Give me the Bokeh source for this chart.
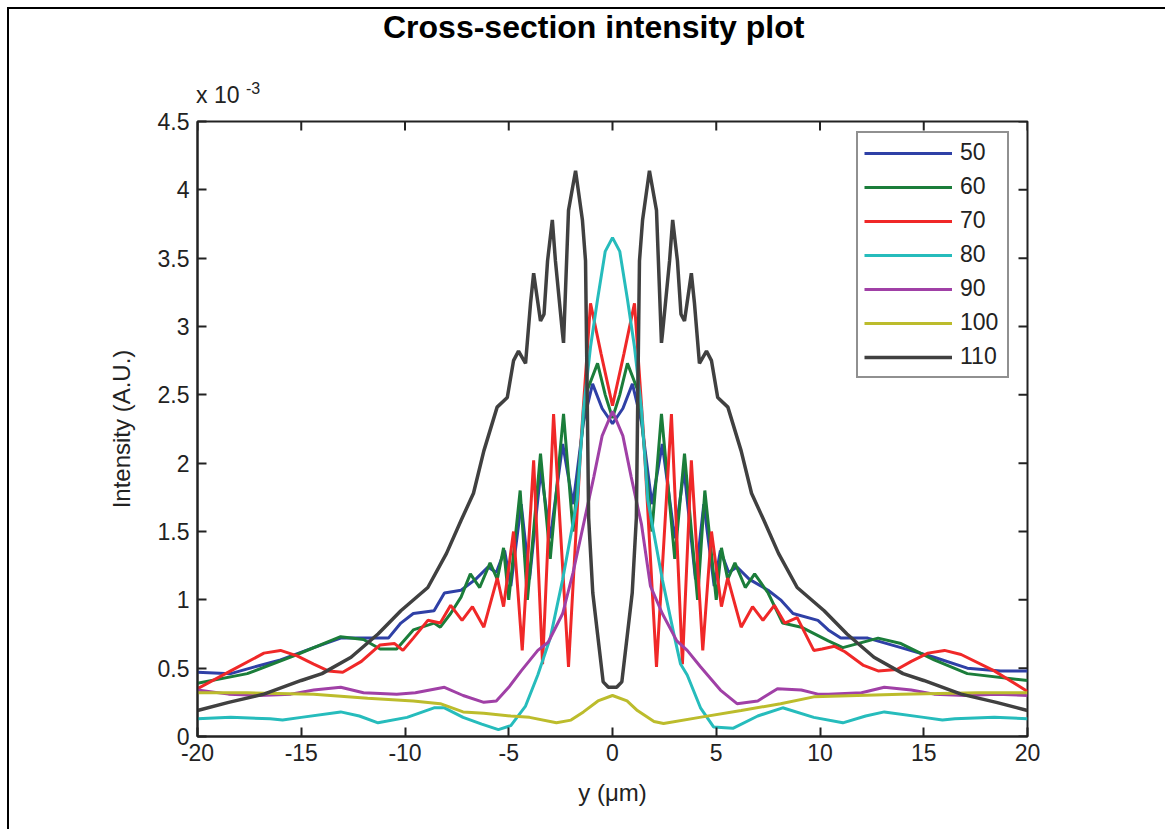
from bokeh.plotting import figure
from bokeh.models import Range1d, FixedTicker, Legend, LegendItem, Div
from bokeh.layouts import column
from bokeh.embed import file_html
from bokeh.resources import INLINE

# ---------------- data (intensity in units of 1e-3) ----------------
x_50 = [-20, -18.4, -17, -16, -14.4, -13.1, -11.8, -10.8, -10.2, -9.6, -8.6, -8.1, -7.3, -6.6, -6.0, -5.6, -5.2, -4.9, -4.4, -4.0, -3.45, -3.0, -2.4, -1.9, -1.4, -0.96, -0.5, 0,
        0.5, 0.96, 1.4, 1.9, 2.4, 3.0, 3.45, 4.0, 4.4, 4.9, 5.2, 5.6, 6.0, 6.6, 7.5, 8.1, 8.7, 9.9, 10.4, 11.0, 12.3, 13.9, 15.5, 17.1, 18.7, 20]
y_50 = [0.47, 0.46, 0.52, 0.56, 0.65, 0.72, 0.72, 0.72, 0.83, 0.9, 0.92, 1.05, 1.07, 1.15, 1.24, 1.2, 1.36, 1.1, 1.7, 1.15, 1.95, 1.45, 2.14, 1.7, 2.3, 2.58, 2.4, 2.29,
        2.4, 2.58, 2.3, 1.7, 2.14, 1.45, 1.95, 1.15, 1.7, 1.1, 1.36, 1.2, 1.24, 1.15, 1.07, 1.0, 0.9, 0.85, 0.78, 0.72, 0.72, 0.65, 0.58, 0.5, 0.48, 0.48]

x_60 = [-20, -17.6, -15.2, -13.1, -12, -11.2, -10.4, -9.6, -8.6, -8.3, -7.8, -7.3, -6.85, -6.4, -5.9, -5.55, -5.25, -5.0, -4.45, -4.1, -3.47, -3.0, -2.36, -1.9, -1.3, -0.72, -0.35, 0,
        0.35, 0.72, 1.3, 1.9, 2.36, 3.0, 3.47, 4.1, 4.45, 5.0, 5.25, 5.55, 5.9, 6.4, 6.85, 7.5, 8.2, 9.1, 10.4, 11.1, 12.8, 13.9, 15.5, 17.1, 20]
y_60 = [0.39, 0.46, 0.6, 0.73, 0.71, 0.64, 0.64, 0.78, 0.83, 0.8, 0.9, 1.02, 1.19, 1.09, 1.27, 1.15, 1.38, 1.0, 1.8, 1.0, 2.07, 1.3, 2.36, 1.5, 2.5, 2.73, 2.5, 2.33,
        2.5, 2.73, 2.5, 1.5, 2.36, 1.3, 2.07, 1.0, 1.8, 1.0, 1.38, 1.15, 1.27, 1.09, 1.19, 1.05, 0.83, 0.8, 0.7, 0.65, 0.72, 0.68, 0.56, 0.46, 0.41]

x_70 = [-20, -18.4, -16.8, -16, -15.2, -14.4, -13.7, -13, -12.1, -11.2, -10.5, -10.1, -9.6, -8.9, -8.3, -7.8, -7.25, -6.75, -6.2, -5.55, -5.25, -4.77, -4.35, -3.8, -3.37, -2.84, -2.12, -1.5, -1.06, -0.55, 0,
        0.55, 1.06, 1.5, 2.12, 2.84, 3.37, 3.8, 4.35, 4.77, 5.25, 5.55, 6.2, 6.75, 7.25, 7.8, 8.3, 8.9, 9.7, 10.1, 10.7, 11.2, 12.1, 12.8, 13.7, 14.4, 15.2, 16.0, 16.8, 18.4, 20]
y_70 = [0.35, 0.48, 0.61, 0.63, 0.59, 0.53, 0.48, 0.47, 0.55, 0.67, 0.68, 0.63, 0.72, 0.85, 0.83, 0.96, 0.85, 0.95, 0.8, 1.16, 0.95, 1.5, 0.63, 2.02, 0.53, 2.36, 0.51, 2.2, 3.17, 2.8, 2.42,
        2.8, 3.17, 2.2, 0.51, 2.36, 0.53, 2.02, 0.63, 1.5, 0.95, 1.16, 0.8, 0.95, 0.85, 0.96, 0.83, 0.87, 0.63, 0.64, 0.66, 0.62, 0.52, 0.48, 0.49, 0.55, 0.61, 0.63, 0.6, 0.48, 0.33]

x_80 = [-20, -18.4, -16.5, -15.9, -15, -13.1, -12.2, -11.3, -9.9, -8.6, -8.1, -7.2, -6.3, -5.5, -4.9, -4.2, -3.6, -3.0, -2.4, -1.7, -1.4, -1.06, -0.72, -0.35, 0,
        0.35, 0.72, 1.06, 1.4, 1.7, 2.4, 3.0, 3.28, 3.6, 4.24, 4.87, 5.8, 7.0, 8.2, 9.7, 11.1, 12.2, 13.1, 15.0, 15.9, 16.5, 18.4, 20]
y_80 = [0.13, 0.14, 0.13, 0.12, 0.14, 0.18, 0.15, 0.10, 0.14, 0.21, 0.21, 0.14, 0.09, 0.05, 0.08, 0.22, 0.45, 0.72, 1.15, 1.73, 2.39, 2.85, 3.2, 3.55, 3.65,
        3.55, 3.2, 2.85, 2.39, 1.73, 1.15, 0.72, 0.53, 0.45, 0.21, 0.07, 0.06, 0.15, 0.21, 0.14, 0.10, 0.15, 0.18, 0.14, 0.12, 0.13, 0.14, 0.13]

x_90 = [-20, -18.5, -17, -15.5, -14.4, -13.1, -12, -10.4, -9.5, -8.1, -7.2, -6.2, -5.6, -5.0, -4.4, -3.6, -3.1, -2.4, -1.9, -1.4, -0.9, -0.5, 0,
        0.5, 0.9, 1.4, 1.83, 2.4, 3.1, 3.6, 4.24, 5.2, 6.0, 7.0, 7.95, 9.1, 9.9, 10.4, 12, 13.1, 14.4, 15.5, 17, 18.5, 20]
y_90 = [0.34, 0.31, 0.30, 0.31, 0.34, 0.36, 0.32, 0.31, 0.32, 0.36, 0.30, 0.25, 0.26, 0.36, 0.48, 0.63, 0.69, 0.9, 1.2, 1.55, 1.9, 2.2, 2.38,
        2.2, 1.9, 1.55, 1.1, 0.9, 0.7, 0.63, 0.51, 0.34, 0.24, 0.26, 0.35, 0.34, 0.31, 0.31, 0.32, 0.36, 0.34, 0.31, 0.30, 0.31, 0.30]

x_100 = [-20, -17.6, -14.4, -11.8, -9.6, -8.3, -7.2, -6.2, -4.9, -4.0, -2.7, -2.0, -1.4, -0.7, 0,
         0.7, 1.2, 2.0, 2.46, 4.2, 6.2, 8.1, 9.7, 11.8, 13.9, 17.6, 20]
y_100 = [0.32, 0.32, 0.31, 0.28, 0.26, 0.24, 0.18, 0.17, 0.15, 0.14, 0.10, 0.12, 0.18, 0.26, 0.30,
         0.26, 0.19, 0.11, 0.095, 0.14, 0.19, 0.24, 0.29, 0.30, 0.31, 0.32, 0.32]

x_110 = [-20, -18.5, -16.8, -15, -14, -12.6, -11.3, -10.2, -8.9, -8.0, -7.3, -6.7, -6.2, -5.56, -5.07, -4.77, -4.53, -4.19, -3.95, -3.8, -3.47, -3.3, -3.13, -2.9, -2.75, -2.41, -2.36, -2.12, -1.78, -1.45, -1.3, -1.22, -1.15, -0.95, -0.72, -0.45, -0.2, 0,
         0.2, 0.45, 0.72, 0.95, 1.15, 1.22, 1.3, 1.45, 1.78, 2.12, 2.36, 2.41, 2.75, 2.9, 3.13, 3.3, 3.47, 3.8, 3.95, 4.19, 4.53, 4.77, 5.07, 5.56, 6.2, 6.7, 7.3, 8.0, 8.9, 10.2, 11.3, 12.6, 14, 15, 16.8, 18.5, 20]
y_110 = [0.19, 0.25, 0.31, 0.41, 0.46, 0.58, 0.75, 0.92, 1.09, 1.34, 1.58, 1.78, 2.09, 2.41, 2.48, 2.75, 2.82, 2.73, 3.17, 3.39, 3.04, 3.09, 3.48, 3.78, 3.48, 2.95, 2.88, 3.85, 4.14, 3.78, 3.48, 2.5, 1.6, 1.05, 0.75, 0.4, 0.36, 0.36,
         0.36, 0.4, 0.75, 1.05, 1.6, 2.5, 3.48, 3.78, 4.14, 3.85, 2.88, 2.95, 3.48, 3.78, 3.48, 3.09, 3.04, 3.39, 3.17, 2.73, 2.82, 2.75, 2.48, 2.41, 2.09, 1.78, 1.58, 1.34, 1.09, 0.92, 0.75, 0.58, 0.46, 0.41, 0.31, 0.25, 0.19]

series_labels = ["50", "60", "70", "80", "90", "100", "110"]
series_colors = ["#2f40a6", "#1b7d3a", "#f02828", "#26bcbc", "#a040a6", "#bcbc2c", "#404040"]
x_ticks = [-20, -15, -10, -5, 0, 5, 10, 15, 20]
x_tick_labels = ["-20", "-15", "-10", "-5", "0", "5", "10", "15", "20"]
y_ticks = [0, 0.5, 1, 1.5, 2, 2.5, 3, 3.5, 4, 4.5]
y_tick_labels = ["0", "0.5", "1", "1.5", "2", "2.5", "3", "3.5", "4", "4.5"]

xs = [x_50, x_60, x_70, x_80, x_90, x_100, x_110]
ys = [y_50, y_60, y_70, y_80, y_90, y_100, y_110]

FONT = "Liberation Sans"
INK = "#222222"
X0, X1, Y0, Y1 = -20, 20, 0, 4.5
FRAME_W, FRAME_H = 830, 615
TICK_PX = 9
HEAD_H = 97

FONT_CSS = "font-family:'Liberation Sans', Arial, sans-serif;"
head_div = Div(
    text=('<div style="position:relative; width:1156px; height:%dpx;">'
          '<div style="position:absolute; left:374px; top:0px; white-space:nowrap; %s '
          'font-size:32px; font-weight:bold; line-height:37px; color:black;">Cross-section intensity plot</div>'
          '<div style="position:absolute; left:187px; top:78px; white-space:nowrap; %s '
          'font-size:23px; line-height:16px; color:%s;">x 10</div>'
          '<div style="position:absolute; left:237px; top:72px; white-space:nowrap; %s '
          'font-size:16px; line-height:16px; color:%s;">-3</div>'
          '</div>') % (HEAD_H, FONT_CSS, FONT_CSS, INK, FONT_CSS, INK),
    width=1156, height=HEAD_H, margin=0)

p = figure(width=1156, height=820 - HEAD_H, output_backend="svg", toolbar_location=None, title=None,
           x_range=Range1d(X0, X1), y_range=Range1d(Y0, Y1),
           min_border_left=188, min_border_right=138, min_border_top=15, min_border_bottom=93,
           x_axis_label="y (\u03bcm)", y_axis_label="Intensity (A.U.)", margin=0)

p.grid.visible = False
p.outline_line_color = INK
p.outline_line_width = 2
p.background_fill_color = "white"
p.border_fill_color = "white"

for ax, ticks, labels in ((p.xaxis[0], x_ticks, x_tick_labels), (p.yaxis[0], y_ticks, y_tick_labels)):
    ax.ticker = FixedTicker(ticks=ticks)
    ax.major_label_overrides = dict(zip(ticks, labels))
    ax.major_tick_in = TICK_PX
    ax.major_tick_out = 0
    ax.minor_tick_line_color = None
    ax.axis_line_color = INK
    ax.axis_line_width = 2
    ax.major_tick_line_color = INK
    ax.major_tick_line_width = 2
    ax.major_label_text_font = FONT
    ax.major_label_text_font_size = "23px"
    ax.major_label_text_color = INK
    ax.axis_label_text_font = FONT
    ax.axis_label_text_font_size = "24px"
    ax.axis_label_text_font_style = "normal"
    ax.axis_label_text_color = INK
p.xaxis[0].major_label_standoff = 7
p.xaxis[0].axis_label_standoff = 15
p.yaxis[0].major_label_standoff = 8
p.yaxis[0].axis_label_standoff = 20

# inward ticks on the top and right edges of the box, at the same tick values
dy = TICK_PX * (Y1 - Y0) / FRAME_H
dx = TICK_PX * (X1 - X0) / FRAME_W
p.segment(x0=x_ticks, y0=[Y1] * len(x_ticks), x1=x_ticks, y1=[Y1 - dy] * len(x_ticks),
          line_color=INK, line_width=2)
p.segment(x0=[X1] * len(y_ticks), y0=y_ticks, x1=[X1 - dx] * len(y_ticks), y1=y_ticks,
          line_color=INK, line_width=2)

items = []
for xv, yv, lab, col in zip(xs, ys, series_labels, series_colors):
    r = p.line(xv, yv, line_color=col, line_width=3.5 if lab == "110" else 3)
    items.append(LegendItem(label=lab, renderers=[r]))

legend = Legend(items=items, location=(659, 358), orientation="vertical",
                glyph_width=88, glyph_height=26, label_height=26, label_width=41, spacing=7,
                padding=6, margin=0, label_standoff=8,
                label_text_font=FONT, label_text_font_size="23px", label_text_color=INK,
                border_line_color=INK, border_line_width=2,
                background_fill_color="white", background_fill_alpha=1)
p.add_layout(legend, "center")

page = column(head_div, p, spacing=0,
              styles={"margin-left": "7px", "margin-top": "7px",
                      "border-top": "2px solid black", "border-left": "2px solid black"})

open("out.html", "w").write(file_html(page, INLINE))
